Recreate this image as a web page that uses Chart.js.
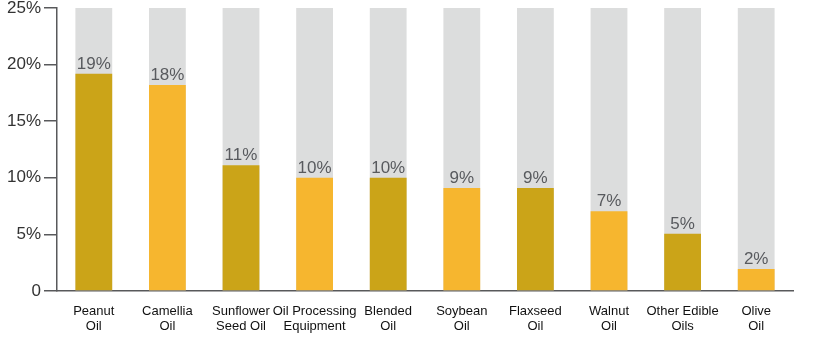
<!DOCTYPE html>
<html>
<head>
<meta charset="utf-8">
<script src="https://cdn.jsdelivr.net/npm/chart.js@4/dist/chart.umd.min.js"></script>
<style>
  html, body { margin: 0; padding: 0; background: #fff; }
  #wrap { width: 820px; height: 341px; }
</style>
</head>
<body>
<div id="wrap"><canvas id="oilChart" width="820" height="341"></canvas></div>
<script>
// categories (two-line labels) and share values
const categories = [
  ['Peanut', 'Oil'], ['Camellia', 'Oil'], ['Sunflower', 'Seed Oil'],
  ['Oil Processing', 'Equipment'], ['Blended', 'Oil'], ['Soybean', 'Oil'],
  ['Flaxseed', 'Oil'], ['Walnut', 'Oil'], ['Other Edible', 'Oils'], ['Olive', 'Oil']
];
const shares = [19.2, 18.2, 11.1, 10.0, 10.0, 9.1, 9.1, 7.05, 5.05, 1.95];
const shareLabels = ['19%', '18%', '11%', '10%', '10%', '9%', '9%', '7%', '5%', '2%'];
const backdrop = [25, 25, 25, 25, 25, 25, 25, 25, 25, 25];
const yTicks = [0, 5, 10, 15, 20, 25];

const darkGold = '#CBA418';
const lightGold = '#F6B62F';
const barColors = shares.map((v, i) => i % 2 === 0 ? darkGold : lightGold);

const numFont = '"Liberation Sans Narrow", "Liberation Sans", Arial, sans-serif';

// percentage text above each coloured bar
const valueLabels = {
  id: 'valueLabels',
  afterDatasetsDraw(chart) {
    const ctx = chart.ctx;
    const meta = chart.getDatasetMeta(1);
    ctx.save();
    ctx.font = '17px ' + numFont;
    ctx.fillStyle = '#585a5e';
    ctx.textAlign = 'center';
    ctx.textBaseline = 'alphabetic';
    meta.data.forEach((bar, i) => {
      ctx.fillText(shareLabels[i], bar.x, bar.y - 5);
    });
    ctx.restore();
  }
};

const ctx = document.getElementById('oilChart').getContext('2d');
new Chart(ctx, {
  type: 'bar',
  data: {
    labels: categories,
    datasets: [
      {
        data: backdrop,
        backgroundColor: '#DCDDDD',
        grouped: false,
        order: 2,
        barPercentage: 0.5,
        categoryPercentage: 1
      },
      {
        data: shares,
        backgroundColor: barColors,
        grouped: false,
        order: 1,
        barPercentage: 0.5,
        categoryPercentage: 1
      }
    ]
  },
  options: {
    responsive: false,
    animation: false,
    layout: { padding: { top: 8, right: 27, left: 0, bottom: 0 } },
    plugins: {
      legend: { display: false },
      tooltip: { enabled: false }
    },
    scales: {
      x: {
        grid: { display: false },
        border: { display: true, color: '#58595b', width: 1.5 },
        ticks: {
          color: '#111',
          font: { family: '"Liberation Sans", Arial, sans-serif', size: 13, lineHeight: 1.15 },
          padding: 5,
          maxRotation: 0,
          autoSkip: false
        },
        afterFit(scale) { scale.height = 50; }
      },
      y: {
        min: 0,
        max: 25,
        afterBuildTicks(scale) { scale.ticks = yTicks.map(v => ({ value: v })); },
        grid: {
          drawOnChartArea: false,
          drawTicks: true,
          tickLength: 13,
          color: '#58595b',
          lineWidth: 1.5
        },
        border: { display: true, color: '#58595b', width: 1.5 },
        ticks: {
          color: '#333',
          font: { family: numFont, size: 17 },
          padding: 3,
          callback: v => v === 0 ? '0' : v + '%'
        },
        afterFit(scale) {
          scale.width = 57;
          scale.paddingTop = 0;
          scale.paddingBottom = 0;
        }
      }
    }
  },
  plugins: [valueLabels]
});
</script>
</body>
</html>
